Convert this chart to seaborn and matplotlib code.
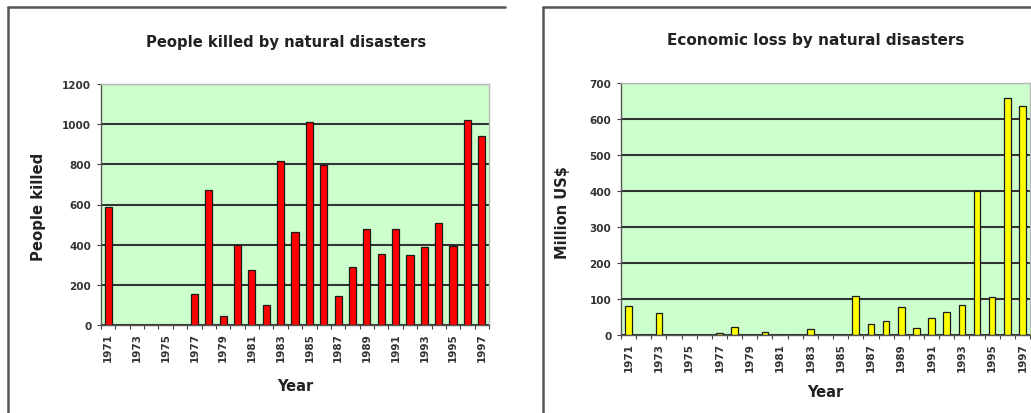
import numpy as np
import pandas as pd
import matplotlib
matplotlib.use("Agg")
import matplotlib.pyplot as plt
from matplotlib.lines import Line2D
import seaborn as sns

# ---- data ----
years = [str(y) for y in range(1971, 1998)]
people_killed = [590, 0, 0, 0, 0, 0, 155, 670, 45, 400, 275, 100, 815, 465, 1010,
                 795, 145, 290, 480, 355, 480, 350, 390, 510, 395, 1020, 940]
economic_loss = [80, 0, 60, 0, 0, 0, 5, 22, 0, 8, 0, 0, 18, 0, 0,
                 108, 30, 38, 77, 19, 46, 65, 83, 400, 106, 658, 635]
tick_years = years[::2]

sns.set_theme(style="white")
plt.rcParams['font.family'] = ['DejaVu Sans']

W, H = 1031, 414
fig = plt.figure(figsize=(W / 100, H / 100), dpi=100)

def px_axes(x0, y0, x1, y1):
    return fig.add_axes([x0 / W, 1 - y1 / H, (x1 - x0) / W, (y1 - y0) / H])

ax1 = px_axes(101, 85, 489, 326)
ax2 = px_axes(621, 84, 1030, 336)

def style_axes(ax, df, color, width, ymax, ystep):
    sns.barplot(data=df, x="year", y="value", color=color, saturation=1,
                width=width, edgecolor="#1a1a1a", linewidth=0.9, ax=ax)
    ax.set_facecolor("#CCFFCC")
    ax.set_xlim(-0.5, len(years) - 0.5)
    ax.set_ylim(0, ymax)
    ax.set_yticks(np.arange(0, ymax + 1, ystep))
    ax.set_xticks(range(0, len(years), 2))
    ax.set_xticklabels(tick_years, rotation=90, fontsize=7.5, fontweight="bold",
                       color="#333333")
    for lab in ax.get_yticklabels():
        lab.set_fontweight("bold")
        lab.set_fontsize(7.5)
        lab.set_color("#333333")
    ax.set_xticks(np.arange(-0.5, len(years), 1), minor=True)
    ax.tick_params(axis="x", which="major", length=0, pad=5)
    ax.tick_params(axis="x", which="minor", length=3, width=0.8, color="#444444",
                   direction="out", bottom=True)
    ax.tick_params(axis="y", length=3, width=0.8, color="#444444", direction="out",
                   left=True, pad=4)
    ax.yaxis.grid(True, color="#333333", linewidth=1.5)
    ax.set_axisbelow(True)
    ax.set_xlabel("")
    ax.set_ylabel("")
    for s in ["left", "bottom"]:
        ax.spines[s].set_color("#555555")
        ax.spines[s].set_linewidth(1.0)
    for s in ["top", "right"]:
        ax.spines[s].set_color("#b8b8b8")
        ax.spines[s].set_linewidth(1.0)

df1 = pd.DataFrame({"year": years, "value": people_killed})
df2 = pd.DataFrame({"year": years, "value": economic_loss})
style_axes(ax1, df1, "#FF0000", 0.5, 1200, 200)
style_axes(ax2, df2, "#FFFF00", 0.44, 700, 100)

# titles and axis labels
fig.text(286 / W, 1 - 43 / H, "People killed by natural disasters", ha="center",
         va="center", fontsize=10.6, fontweight="bold", color="#222222")
fig.text(816 / W, 1 - 40 / H, "Economic loss by natural disasters", ha="center",
         va="center", fontsize=11, fontweight="bold", color="#222222")
fig.text(38 / W, 1 - 207 / H, "People killed", rotation=90, ha="center",
         va="center", fontsize=10.7, fontweight="bold", color="#222222")
fig.text(563 / W, 1 - 213 / H, "Million US$", rotation=90, ha="center",
         va="center", fontsize=10.5, fontweight="bold", color="#222222")
fig.text(295 / W, 1 - 387 / H, "Year", ha="center", va="center",
         fontsize=10.5, fontweight="bold", color="#222222")
fig.text(825 / W, 1 - 393 / H, "Year", ha="center", va="center",
         fontsize=10.5, fontweight="bold", color="#222222")

# panel frames (top and left edges)
def fline(xs, ys):
    fig.add_artist(Line2D([x / W for x in xs], [1 - y / H for y in ys],
                          color="#555555", linewidth=1.8))

fline([8, 505], [8, 8])
fline([8, 8], [8, 414])
fline([543, 1031], [8, 8])
fline([543, 543], [8, 414])

fig.savefig("out.png", dpi=100, facecolor="white")
